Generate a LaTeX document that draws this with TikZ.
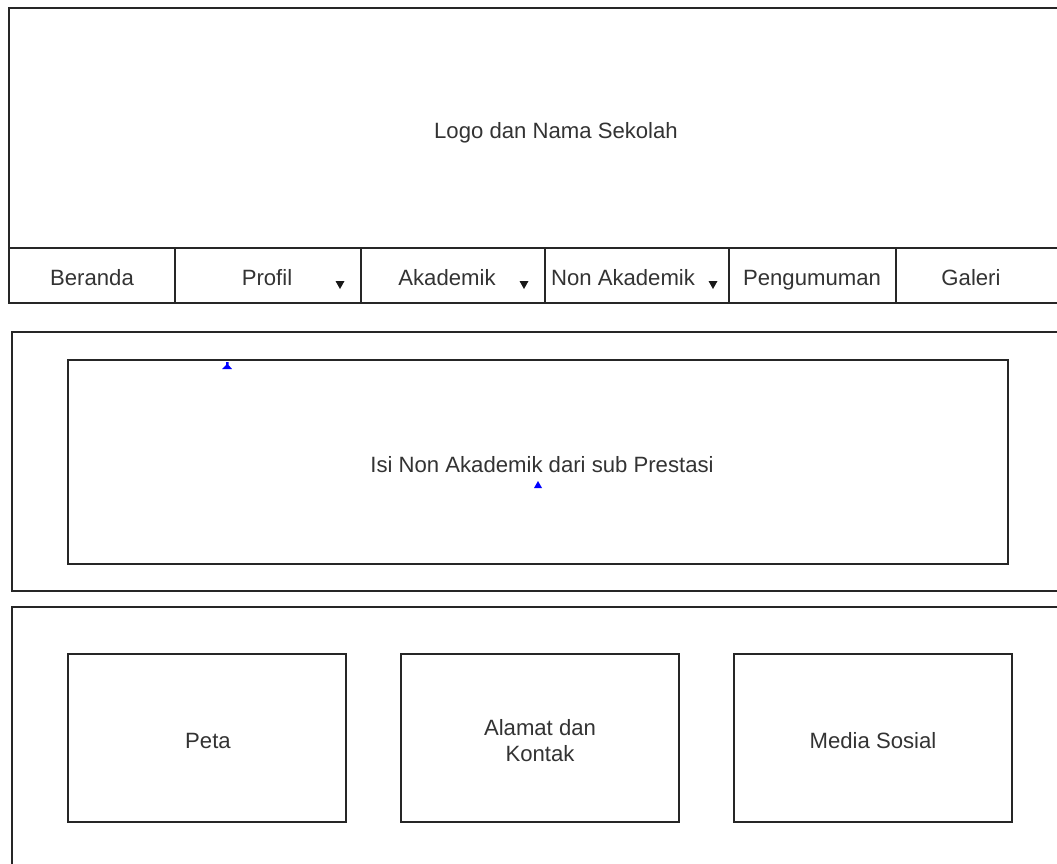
\documentclass[tikz,border=0pt]{standalone}
\usepackage{fontspec}
\setmainfont{Liberation Sans}
\begin{document}
\begin{tikzpicture}[x=0.75pt,y=-0.75pt,
  box/.style={draw=black!85,line width=1.1pt},
  lbl/.style={font=\fontsize{16.6}{19.5}\selectfont,text=black!80,inner sep=0pt,align=center},
  one/.style={lbl,text height=0.72em,text depth=0pt},
  tri/.style={fill=black!90,draw=none},
  blue mark/.style={fill=blue,draw=none}]
\useasboundingbox (0,0) rectangle (1057,864);
\fill[white] (0,0) rectangle (1057,864);
\clip (0,0) rectangle (1057,864);
% header
\draw[box] (1070,8) -- (9,8) -- (9,303) -- (1070,303);
\draw[box] (9,248) -- (1070,248);
\foreach \x in {175,361,545,729,896} \draw[box] (\x,248) -- (\x,303);
\node[one] (logo) at (556,134) {Logo dan Nama Sekolah};
\node[one] (beranda) at (92,281) {Beranda};
\node[one] (profil) at (267,281) {Profil};
\node[one] (akademik) at (447,281) {Akademik};
\node[one] (nonak) at (623,281) {Non Akademik};
\node[one] (pengumuman) at (812,281) {Pengumuman};
\node[one] (galeri) at (971,281) {Galeri};
\foreach \x in {340,524,713} \fill[tri] (\x-4.5,281) -- (\x+4.5,281) -- (\x,289) -- cycle;
% content
\draw[box] (1070,332) -- (12,332) -- (12,591) -- (1070,591);
\draw[box] (68,360) rectangle (1008,564);
\node[one] (isi) at (542,468) {Isi Non Akademik dari sub Prestasi};
\fill[blue mark] (226,362) -- (228.5,362) -- (228.5,365) -- (232,369) -- (222,369) -- (226,365) -- cycle;
\fill[blue mark] (538,481) -- (542,488) -- (534,488) -- cycle;
% footer
\draw[box] (1070,607) -- (12,607) -- (12,880);
\draw[box] (68,654) rectangle (346,822);
\draw[box] (401,654) rectangle (679,822);
\draw[box] (734,654) rectangle (1012,822);
\node[one] (peta) at (208,744) {Peta};
\node[lbl] (alamat) at (540,741) {Alamat dan\\Kontak};
\node[one] (medsos) at (873,744) {Media Sosial};
\end{tikzpicture}
\end{document}
